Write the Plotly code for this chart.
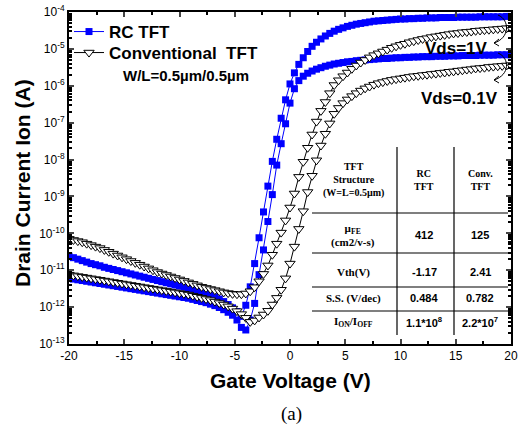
import plotly.graph_objects as go

# Gate voltage sweep (V)
vg = [-20.0, -19.6, -19.2, -18.8, -18.4, -18.0, -17.6, -17.2, -16.8, -16.4,
      -16.0, -15.6, -15.2, -14.8, -14.4, -14.0, -13.6, -13.2, -12.8, -12.4,
      -12.0, -11.6, -11.2, -10.8, -10.4, -10.0, -9.6, -9.2, -8.8, -8.4,
      -8.0, -7.6, -7.2, -6.8, -6.4, -6.0, -5.6, -5.2, -4.8, -4.4,
      -4.0, -3.6, -3.2, -2.8, -2.4, -2.0, -1.6, -1.2, -0.8, -0.4,
      0.0, 0.4, 0.8, 1.2, 1.6, 2.0, 2.4, 2.8, 3.2, 3.6,
      4.0, 4.4, 4.8, 5.2, 5.6, 6.0, 6.4, 6.8, 7.2, 7.6,
      8.0, 8.4, 8.8, 9.2, 9.6, 10.0, 10.4, 10.8, 11.2, 11.6,
      12.0, 12.4, 12.8, 13.2, 13.6, 14.0, 14.4, 14.8, 15.2, 15.6,
      16.0, 16.4, 16.8, 17.2, 17.6, 18.0, 18.4, 18.8, 19.2, 19.6,
      20.0]

# log10 of drain current (A)
rc_vds1_log = [-10.62, -10.66, -10.70, -10.74, -10.78, -10.82, -10.85, -10.88, -10.92, -10.95,
               -10.98, -11.01, -11.04, -11.07, -11.10, -11.13, -11.16, -11.19, -11.22, -11.25,
               -11.28, -11.31, -11.34, -11.37, -11.40, -11.43, -11.46, -11.49, -11.52, -11.55,
               -11.59, -11.63, -11.67, -11.72, -11.78, -11.85, -11.93, -12.02, -12.12, -12.25,
               -11.95, -11.45, -10.82, -10.12, -9.42, -8.72, -8.05, -7.45, -6.88, -6.38,
               -5.95, -5.65, -5.42, -5.24, -5.07, -4.93, -4.82, -4.73, -4.65, -4.58,
               -4.52, -4.47, -4.43, -4.39, -4.36, -4.33, -4.31, -4.29, -4.27, -4.25,
               -4.24, -4.23, -4.22, -4.21, -4.20, -4.19, -4.19, -4.18, -4.18, -4.17,
               -4.17, -4.16, -4.16, -4.16, -4.15, -4.15, -4.15, -4.15, -4.14, -4.14,
               -4.14, -4.14, -4.14, -4.13, -4.13, -4.13, -4.13, -4.13, -4.13, -4.12,
               -4.12]

rc_vds01_log = [-11.22, -11.24, -11.26, -11.28, -11.30, -11.32, -11.34, -11.36, -11.38, -11.40,
                -11.42, -11.44, -11.46, -11.48, -11.50, -11.52, -11.54, -11.56, -11.58, -11.60,
                -11.62, -11.64, -11.66, -11.68, -11.70, -11.72, -11.74, -11.76, -11.79, -11.82,
                -11.85, -11.88, -11.92, -11.96, -12.01, -12.07, -12.14, -12.22, -12.35, -12.55,
                -12.62, -12.35, -11.90, -11.12, -10.45, -9.68, -8.95, -8.15, -7.57, -7.03,
                -6.47, -6.08, -5.86, -5.74, -5.66, -5.60, -5.55, -5.51, -5.47, -5.44,
                -5.41, -5.39, -5.37, -5.35, -5.34, -5.32, -5.31, -5.30, -5.29, -5.28,
                -5.27, -5.26, -5.26, -5.25, -5.24, -5.24, -5.23, -5.23, -5.22, -5.22,
                -5.21, -5.21, -5.21, -5.20, -5.20, -5.20, -5.19, -5.19, -5.19, -5.18,
                -5.18, -5.18, -5.18, -5.17, -5.17, -5.17, -5.17, -5.16, -5.16, -5.16,
                -5.16]

conv_vds1_log = [-10.15, -10.18, -10.21, -10.24, -10.28, -10.32, -10.36, -10.40, -10.45, -10.50,
                 -10.55, -10.60, -10.65, -10.70, -10.75, -10.80, -10.85, -10.90, -10.95, -11.00,
                 -11.05, -11.09, -11.13, -11.17, -11.21, -11.25, -11.29, -11.33, -11.37, -11.41,
                 -11.45, -11.48, -11.51, -11.54, -11.57, -11.60, -11.62, -11.64, -11.65, -11.65,
                 -11.63, -11.57, -11.46, -11.30, -11.10, -10.87, -10.58, -10.28, -9.98, -9.65,
                 -9.30, -8.92, -8.47, -8.06, -7.68, -7.32, -6.97, -6.68, -6.44, -6.20,
                 -5.98, -5.85, -5.74, -5.64, -5.54, -5.45, -5.37, -5.30, -5.23, -5.17,
                 -5.12, -5.07, -5.02, -4.97, -4.93, -4.89, -4.86, -4.82, -4.79, -4.76,
                 -4.73, -4.71, -4.68, -4.66, -4.64, -4.62, -4.60, -4.58, -4.57, -4.55,
                 -4.54, -4.53, -4.51, -4.50, -4.49, -4.48, -4.47, -4.46, -4.45, -4.44,
                 -4.43]

conv_vds01_log = [-11.12, -11.14, -11.16, -11.18, -11.20, -11.22, -11.24, -11.26, -11.28, -11.30,
                  -11.32, -11.34, -11.36, -11.38, -11.40, -11.42, -11.44, -11.46, -11.48, -11.50,
                  -11.52, -11.54, -11.56, -11.58, -11.60, -11.62, -11.64, -11.66, -11.69, -11.72,
                  -11.75, -11.78, -11.81, -11.85, -11.89, -11.93, -11.98, -12.04, -12.11, -12.19,
                  -12.29, -12.40, -12.36, -12.28, -12.20, -12.10, -11.93, -11.75, -11.53, -11.22,
                  -10.82, -10.36, -9.88, -9.40, -8.88, -8.44, -8.02, -7.62, -7.30, -7.02,
                  -6.76, -6.60, -6.47, -6.37, -6.28, -6.20, -6.13, -6.07, -6.02, -5.97,
                  -5.93, -5.90, -5.87, -5.84, -5.82, -5.80, -5.78, -5.76, -5.74, -5.73,
                  -5.71, -5.70, -5.68, -5.67, -5.65, -5.64, -5.62, -5.61, -5.59, -5.58,
                  -5.56, -5.55, -5.53, -5.52, -5.51, -5.49, -5.48, -5.47, -5.46, -5.45,
                  -5.44]

# axis ticks
x_ticks = [-20, -15, -10, -5, 0, 5, 10, 15, 20]
x_ticklabels = ["-20", "-15", "-10", "-5", "0", "5", "10", "15", "20"]
y_ticks = [1e-13, 1e-12, 1e-11, 1e-10, 1e-9, 1e-8, 1e-7, 1e-6, 1e-5, 1e-4]
y_ticklabels = ["10<sup>-13</sup>", "10<sup>-12</sup>", "10<sup>-11</sup>", "10<sup>-10</sup>",
                "10<sup>-9</sup>", "10<sup>-8</sup>", "10<sup>-7</sup>", "10<sup>-6</sup>",
                "10<sup>-5</sup>", "10<sup>-4</sup>"]

# table contents
table_header = ["TFT<br>Structure<br>(W=L=0.5\u00b5m)", "RC<br>TFT", "Conv.<br>TFT"]
table_rows = [
    ["\u00b5<sub>FE</sub><br>(cm2/v-s)", "412", "125"],
    ["Vth(V)", "-1.17", "2.41"],
    ["S.S. (V/dec)", "0.484", "0.782"],
    ["I<sub>ON</sub>/I<sub>OFF</sub>", "1.1*10<sup>8</sup>", "2.2*10<sup>7</sup>"],
]

SANS = "Liberation Sans, Arial, sans-serif"
SERIF = "Liberation Serif, Times New Roman, serif"

W, H = 518, 435
L, R, T, B = 69, 7, 12, 91
PW, PH = W - L - R, H - T - B


def px(x):
    return (x - L) / PW


def py(y):
    return (H - B - y) / PH


def to_amp(vals):
    return [10 ** v for v in vals]


fig = go.Figure()

blue = "#0000FF"
fig.add_trace(go.Scatter(x=vg, y=to_amp(rc_vds1_log), mode="lines+markers", name="<b>RC TFT</b>",
                         legend="legend", line=dict(color=blue, width=1),
                         marker=dict(symbol="square", size=7, color=blue)))
fig.add_trace(go.Scatter(x=vg, y=to_amp(rc_vds01_log), mode="lines+markers", name="RC 0.1",
                         showlegend=False, line=dict(color=blue, width=1),
                         marker=dict(symbol="square", size=7, color=blue)))
fig.add_trace(go.Scatter(x=vg, y=to_amp(conv_vds1_log), mode="lines+markers",
                         name="<b>Conventional\u00a0 TFT</b>", legend="legend2",
                         line=dict(color="black", width=1),
                         marker=dict(symbol="triangle-down", size=9, color="white",
                                     line=dict(color="black", width=1))))
fig.add_trace(go.Scatter(x=vg, y=to_amp(conv_vds01_log), mode="lines+markers", name="Conv 0.1",
                         showlegend=False, line=dict(color="black", width=1),
                         marker=dict(symbol="triangle-down", size=9, color="white",
                                     line=dict(color="black", width=1))))

ann = []


def text(t, x, y, fam, size, angle=0, xanchor="center"):
    ann.append(dict(text=t, x=px(x), y=py(y), xref="paper", yref="paper", xanchor=xanchor,
                    yanchor="middle", showarrow=False, textangle=angle,
                    font=dict(family=fam, size=size, color="black")))


text("<b>Gate Voltage (V)</b>", 290, 380, SANS, 21)
text("<b>Drain Current Ion (A)</b>", 22, 183, SANS, 21, angle=-90)
text("(a)", 291, 414, SERIF, 19)
text("<b>W/L=0.5\u00b5m/0.5\u00b5m</b>", 121, 75, SANS, 15, xanchor="left")
text("<b>Vds=1V</b>", 456, 48, SANS, 17)
text("<b>Vds=0.1V</b>", 459, 98, SANS, 17)

# table
col_x = [353, 424, 480]
header_y = 180
row_y = [235, 272, 298, 322]
for j, t in enumerate(table_header):
    text("<b>" + t + "</b>", col_x[j], header_y, SERIF, 10)
for i, row in enumerate(table_rows):
    for j, t in enumerate(row):
        text("<b>" + t + "</b>", col_x[j], row_y[i], SERIF if j == 0 else SANS, 11)

shapes = []
for yy in [213, 253, 287, 311]:
    shapes.append(dict(type="line", xref="paper", yref="paper", x0=px(312), x1=px(508),
                       y0=py(yy), y1=py(yy), line=dict(color="black", width=1.2)))
for xx in [397, 454]:
    shapes.append(dict(type="line", xref="paper", yref="paper", x0=px(xx), x1=px(xx),
                       y0=py(147), y1=py(335), line=dict(color="black", width=1.2)))


def arc(y0, y1):
    p = "M {} {} C {} {} {} {} {} {}".format(px(498), py(y0), px(510), py(y0 + 5),
                                             px(510), py(y1 - 5), px(494), py(y1))
    return dict(type="path", xref="paper", yref="paper", path=p, line=dict(color="black", width=1))


def head(y1):
    p = "M {} {} L {} {} M {} {} L {} {}".format(px(494), py(y1), px(499), py(y1 - 4),
                                                 px(494), py(y1), px(499), py(y1 + 3))
    return dict(type="path", xref="paper", yref="paper", path=p, line=dict(color="black", width=1))


shapes += [arc(15, 43), head(43), arc(53, 80), head(80)]

leg_common = dict(x=0.0, xanchor="left", yanchor="middle", bgcolor="rgba(0,0,0,0)",
                  font=dict(family=SANS, size=17, color="black"), itemwidth=30)
fig.update_layout(
    width=W, height=H,
    margin=dict(l=L, r=R, t=T, b=B, autoexpand=False),
    paper_bgcolor="white", plot_bgcolor="white",
    showlegend=True,
    legend=dict(y=py(32), **leg_common),
    legend2=dict(y=py(53), **leg_common),
    annotations=ann,
    shapes=shapes,
    font=dict(family=SANS, color="black"),
)
fig.update_xaxes(range=[-20, 20], tickmode="array", tickvals=x_ticks, ticktext=x_ticklabels,
                 ticks="inside", ticklen=5, tickwidth=1.5, automargin=False,
                 showline=True, linecolor="black", linewidth=2, mirror="ticks", showgrid=False,
                 zeroline=False, tickfont=dict(family=SANS, size=12, color="black"),
                 minor=dict(ticks="inside", ticklen=3, dtick=2.5, tick0=-20, tickcolor="black",
                            showgrid=False))
fig.update_yaxes(type="log", range=[-13, -4], tickmode="array", tickvals=y_ticks,
                 ticktext=y_ticklabels, ticks="inside", ticklen=5, tickwidth=1.5, automargin=False,
                 showline=True, linecolor="black", linewidth=2,
                 mirror="ticks", showgrid=False, zeroline=False,
                 tickfont=dict(family=SANS, size=12, color="black"),
                 minor=dict(ticks="inside", ticklen=3, dtick="D1", tickcolor="black",
                            showgrid=False))

fig.write_html("out.html")
